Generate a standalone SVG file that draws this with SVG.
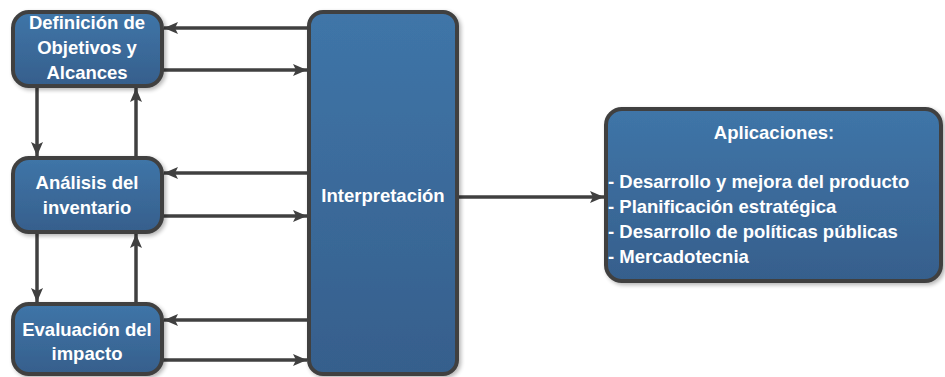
<svg xmlns="http://www.w3.org/2000/svg" width="945" height="377" viewBox="0 0 945 377">
<defs>
<linearGradient id="g" x1="0" y1="0" x2="0" y2="1">
<stop offset="0" stop-color="#3f75a8"/>
<stop offset="1" stop-color="#365f8c"/>
</linearGradient>
<marker id="ah" viewBox="0 0 14 12" refX="14" refY="6" markerWidth="14" markerHeight="12" markerUnits="userSpaceOnUse" orient="auto">
<path d="M0,0 L14,6 L0,12 L3,6 Z" fill="#404040"/>
</marker>
<filter id="sh" x="-10%" y="-10%" width="130%" height="130%">
<feGaussianBlur in="SourceAlpha" stdDeviation="2"/>
<feOffset dx="2" dy="2"/>
<feComponentTransfer><feFuncA type="linear" slope="0.3"/></feComponentTransfer>
<feMerge><feMergeNode/><feMergeNode in="SourceGraphic"/></feMerge>
</filter>
</defs>
<style>
.box{fill:url(#g);stroke:#404040;stroke-width:4;filter:url(#sh)}
.t{font-family:"Liberation Sans",Arial,sans-serif;font-weight:bold;font-size:18.5px;fill:#ffffff;text-anchor:middle}
.l{text-anchor:start}
.c{stroke:#404040;stroke-width:3.5;fill:none;marker-end:url(#ah)}
</style>
<g id="connectors">
<line class="c" x1="308" y1="28" x2="164" y2="28"/>
<line class="c" x1="162" y1="70" x2="307" y2="70"/>
<line class="c" x1="308" y1="173" x2="164" y2="173"/>
<line class="c" x1="162" y1="216" x2="307" y2="216"/>
<line class="c" x1="308" y1="320" x2="164" y2="320"/>
<line class="c" x1="162" y1="360" x2="307" y2="360"/>
<line class="c" x1="37" y1="87" x2="37" y2="156"/>
<line class="c" x1="136" y1="157" x2="136" y2="88"/>
<line class="c" x1="37" y1="233" x2="37" y2="302"/>
<line class="c" x1="136" y1="303" x2="136" y2="234"/>
<line class="c" x1="458" y1="197" x2="604" y2="197"/>
</g>
<g id="definicion">
<rect class="box" x="13" y="12" width="149" height="74" rx="16"/>
<text class="t" x="87" y="29">Definición de</text>
<text class="t" x="87" y="54">Objetivos y</text>
<text class="t" x="87" y="79">Alcances</text>
</g>
<g id="analisis">
<rect class="box" x="13" y="158" width="149" height="74" rx="16"/>
<text class="t" x="87" y="189">Análisis del</text>
<text class="t" x="87" y="214">inventario</text>
</g>
<g id="evaluacion">
<rect class="box" x="13" y="304" width="149" height="70" rx="16"/>
<text class="t" x="87" y="336">Evaluación del</text>
<text class="t" x="87" y="360">impacto</text>
</g>
<g id="interpretacion">
<rect class="box" x="309" y="12" width="148" height="362" rx="14"/>
<text class="t" x="383" y="202">Interpretación</text>
</g>
<g id="aplicaciones">
<rect class="box" x="606" y="109" width="335" height="172" rx="16"/>
<text class="t" x="774" y="139">Aplicaciones:</text>
<text class="t l" x="608" y="188">- Desarrollo y mejora del producto</text>
<text class="t l" x="608" y="213">- Planificación estratégica</text>
<text class="t l" x="608" y="238">- Desarrollo de políticas públicas</text>
<text class="t l" x="608" y="263">- Mercadotecnia</text>
</g>
</svg>
